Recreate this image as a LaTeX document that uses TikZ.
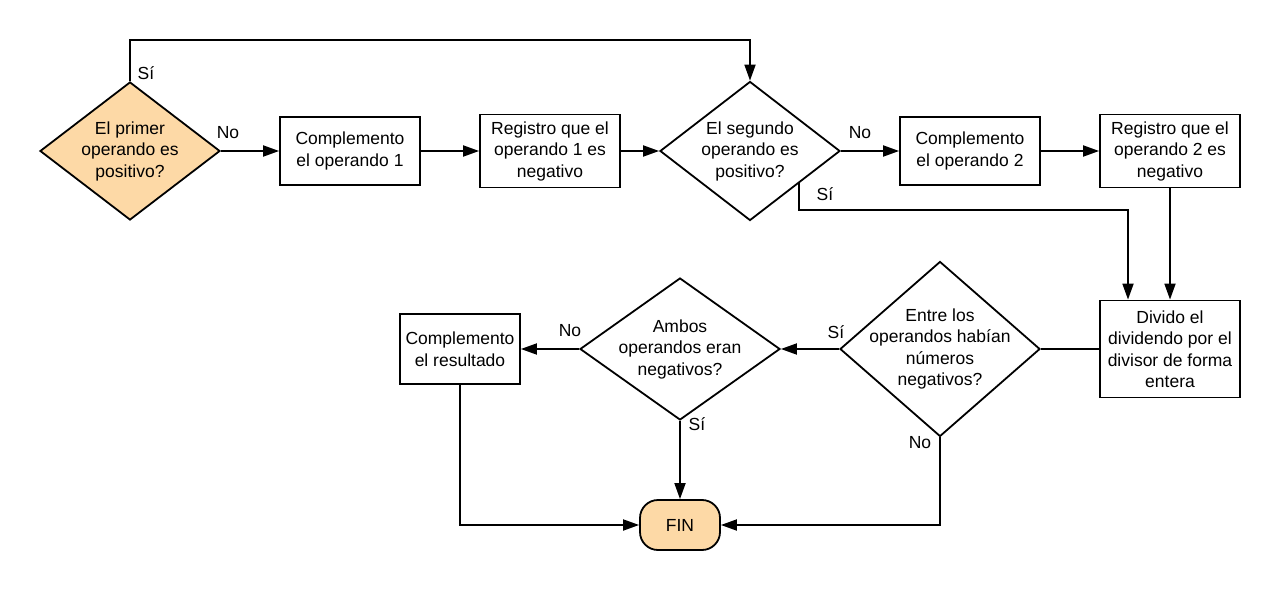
\documentclass[tikz,border=0pt]{standalone}
\usepackage{fontspec}
\setmainfont{Liberation Sans}
\usetikzlibrary{shapes.geometric,arrows.meta,calc}
\definecolor{fillor}{HTML}{FDD9A6}
\begin{document}
\begin{tikzpicture}[x=1pt,y=-1pt,
  every node/.style={font=\fontsize{17.5}{21.5}\selectfont},
  line/.style={line width=1.8pt,line join=miter},
  arr/.style={line, -{Triangle[length=16pt,width=11pt]}},
  box/.style={draw,line width=1.8pt,align=center,inner sep=0pt,minimum width=140pt},
  dec/.style={draw,line width=1.8pt,diamond,inner sep=0pt},
  lbl/.style={inner sep=0pt}]
\useasboundingbox[fill=white] (0,0) rectangle (1280,591);
% nodes
\node[dec,fill=fillor,minimum width=180pt,minimum height=138pt,
  label={[align=center]center:El primer\\operando es\\positivo?}] (D1) at (130,151) {};
\node[box,minimum height=68pt] (B1) at (350,151) {Complemento\\el operando 1};
\node[box,minimum height=73pt] (B2) at (550,151) {Registro que el\\operando 1 es\\negativo};
\node[dec,minimum width=180pt,minimum height=139pt,
  label={[align=center]center:El segundo\\operando es\\positivo?}] (D2) at (750,151) {};
\node[box,minimum height=68pt] (B3) at (970,151) {Complemento\\el operando 2};
\node[box,minimum height=73pt] (B4) at (1170,151) {Registro que el\\operando 2 es\\negativo};
\node[box,minimum height=97pt] (B5) at (1170,349) {Divido el\\dividendo por el\\divisor de forma\\entera};
\node[dec,minimum width=200pt,minimum height=175pt,
  label={[align=center]center:Entre los\\operandos habían\\números\\negativos?}] (D3) at (940,349) {};
\node[dec,minimum width=200pt,minimum height=142pt,
  label={[align=center]center:Ambos\\operandos eran\\negativos?}] (D4) at (680,349) {};
\node[box,minimum width=120pt,minimum height=70pt] (B6) at (460,349) {Complemento\\el resultado};
\node[draw,line width=1.8pt,fill=fillor,rounded corners=18pt,minimum width=80pt,minimum height=50pt,inner sep=0pt] (FIN) at (680,525) {FIN};
% helper coordinates
\coordinate (top) at (0,40);
\coordinate (c1) at (1128,210);
\coordinate (d2x) at ($(D2.east)!0.46!(D2.south)$);
% connectors
\draw[arr] (D1.north) |- (top -| D2.north) -- (D2.north);
\draw[arr] (D1.east) -- (B1.west);
\draw[arr] (B1.east) -- (B2.west);
\draw[arr] (B2.east) -- (D2.west);
\draw[arr] (D2.east) -- (B3.west);
\draw[arr] (B3.east) -- (B4.west);
\draw[arr] (d2x) |- (c1) -- (c1 |- B5.north);
\draw[arr] (B4.south) -- (B5.north);
\draw[line] (B5.west) -- (D3.east);
\draw[arr] (D3.west) -- (D4.east);
\draw[arr] (D4.west) -- (B6.east);
\draw[arr] (D4.south) -- (FIN.north);
\draw[arr] (D3.south) |- (FIN.east);
\draw[arr] (B6.south) |- (FIN.west);
% labels
\node[lbl] (l1) at (146,73) {Sí};
\node[lbl] (l2) at (228,133) {No};
\node[lbl] (l3) at (860,133) {No};
\node[lbl] (l4) at (825,194) {Sí};
\node[lbl] (l5) at (836,332) {Sí};
\node[lbl] (l6) at (570,331) {No};
\node[lbl] (l7) at (697,424) {Sí};
\node[lbl] (l8) at (920,443) {No};
\end{tikzpicture}
\end{document}
